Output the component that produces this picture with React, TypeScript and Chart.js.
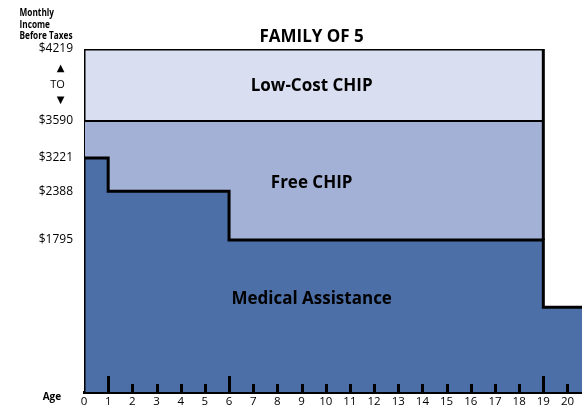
import React, { useEffect, useRef } from 'react';
import { Chart, registerables, LinearScale } from 'chart.js';

Chart.register(...registerables);

// ---- data ----
const ageLabels = [0, 1, 2, 3, 4, 5, 6, 7, 8, 9, 10, 11, 12, 13, 14, 15, 16, 17, 18, 19, 20];
const majorTickAges = [1, 6, 19];
const axisEndAge = 20.6;
const chipMaxAge = 19;
const maBandStartAges = [0, 1, 6, 19];
const maIncomeLimits = [3221, 2388, 1795, 1000];
const freeChipLimit = 3590;
const lowCostChipLimit = 4219;
const incomeTickValues = [4219, 3590, 3221, 2388, 1795];
const regionNames = ['Low-Cost CHIP', 'Free CHIP', 'Medical Assistance'];
const yCaptionLines = ['Monthly', 'Income', 'Before Taxes'];

// schematic (non-linear) income axis: dollar stops and their share of the axis height
const axisDollarStops = [0, 1795, 2388, 3221, 3590, 4219];
const axisShareStops = [0, 0.443, 0.585, 0.682, 0.79, 1];

function interp(v: number, from: number[], to: number[]) {
  const n = from.length;
  let i = 1;
  while (i < n - 1 && v > from[i]) i++;
  const t = (v - from[i - 1]) / (from[i] - from[i - 1]);
  return to[i - 1] + t * (to[i] - to[i - 1]);
}

class SchematicScale extends LinearScale {
  static id = 'schematic';
  static defaults = LinearScale.defaults;
  getPixelForValue(value: number) {
    if (value === null || value === undefined || isNaN(value)) return NaN;
    return this.getPixelForDecimal(interp(value, axisDollarStops, axisShareStops));
  }
  getValueForPixel(pixel: number) {
    return interp(this.getDecimalForPixel(pixel), axisShareStops, axisDollarStops);
  }
}
Chart.register(SchematicScale as any);

// build step outlines from the arrays
const maPoints: { x: number; y: number }[] = [{ x: 0, y: 0 }];
maBandStartAges.forEach((a, i) => {
  const end = i + 1 < maBandStartAges.length ? maBandStartAges[i + 1] : axisEndAge;
  maPoints.push({ x: a, y: maIncomeLimits[i] });
  maPoints.push({ x: end, y: maIncomeLimits[i] });
});
const freePoints = [
  { x: 0, y: 0 },
  { x: 0, y: freeChipLimit },
  { x: chipMaxAge, y: freeChipLimit },
];
const lowCostPoints = [
  { x: 0, y: freeChipLimit },
  { x: 0, y: lowCostChipLimit },
  { x: chipMaxAge, y: lowCostChipLimit },
  { x: chipMaxAge, y: maIncomeLimits[maBandStartAges.indexOf(chipMaxAge) - 1] },
];

const FONT = '"Open Sans", "DejaVu Sans", sans-serif';

const decorPlugin = {
  id: 'decor',
  afterDatasetsDraw(chart: any) {
    const { ctx, chartArea, scales } = chart;
    const xs = scales.x;
    ctx.save();
    ctx.strokeStyle = '#000';
    ctx.lineWidth = 3;
    ageLabels.forEach((a) => {
      if (a === 0) return;
      const px = Math.round(xs.getPixelForValue(a)) + 0.5;
      const len = majorTickAges.includes(a) ? 16 : 8;
      ctx.beginPath();
      ctx.moveTo(px, chartArea.bottom);
      ctx.lineTo(px, chartArea.bottom - len);
      ctx.stroke();
    });
    ctx.restore();
  },
  afterDraw(chart: any) {
    const { ctx, chartArea, scales } = chart;
    const xs = scales.x;
    const ys = scales.y;
    const cx = (xs.getPixelForValue(0) + xs.getPixelForValue(chipMaxAge)) / 2 - 2;
    const h = chartArea.bottom - chartArea.top;
    ctx.save();
    ctx.fillStyle = '#000';
    ctx.textAlign = 'center';
    ctx.textBaseline = 'alphabetic';
    ctx.font = `bold 17px ${FONT}`;
    ctx.fillText('FAMILY OF 5', cx, 42);
    const shares = [0.1035, 0.388, 0.726];
    regionNames.forEach((t, i) => {
      ctx.fillText(t, cx, chartArea.top + shares[i] * h + 6);
    });
    // axis caption (condensed)
    ctx.textAlign = 'left';
    ctx.font = `bold 10.5px ${FONT}`;
    const widest = ctx.measureText(yCaptionLines[2]).width;
    const sx = 53 / widest;
    const baselines = [16, 28.3, 39.3];
    yCaptionLines.forEach((t, i) => {
      ctx.save();
      ctx.translate(19.5, baselines[i]);
      ctx.scale(sx, 1);
      ctx.fillText(t, 0, 0);
      ctx.restore();
    });
    ctx.save();
    ctx.font = `bold 11px ${FONT}`;
    const aw = ctx.measureText('Age').width;
    ctx.translate(42.7, 400);
    ctx.scale(18.5 / aw, 1);
    ctx.fillText('Age', 0, 0);
    ctx.restore();
    // range marker between top two income ticks
    const mid = (ys.getPixelForValue(freeChipLimit) + ys.getPixelForValue(lowCostChipLimit)) / 2;
    ctx.textAlign = 'center';
    ctx.textBaseline = 'middle';
    ctx.font = `10px "DejaVu Sans", sans-serif`;
    ctx.fillText('▲', 60.5, mid - 16.5);
    ctx.fillText('▼', 60.5, mid + 15);
    ctx.font = `11px ${FONT}`;
    ctx.fillText('TO', 57.5, mid - 0.5);
    ctx.restore();
  },
};

export default function App() {
  const ref = useRef<HTMLCanvasElement>(null);
  useEffect(() => {
    Chart.defaults.font.family = FONT;
    Chart.defaults.color = '#000';
    const chart = new Chart(ref.current as HTMLCanvasElement, {
      type: 'line',
      data: {
        datasets: [
          {
            label: 'Medical Assistance',
            data: maPoints,
            borderColor: '#000',
            borderWidth: 3,
            backgroundColor: '#4d6fa8',
            fill: 'start',
            pointRadius: 0,
            tension: 0,
            borderJoinStyle: 'miter',
          },
          {
            label: 'Free CHIP',
            data: freePoints,
            borderColor: '#000',
            borderWidth: 2,
            backgroundColor: '#a3b1d6',
            fill: 'start',
            pointRadius: 0,
            tension: 0,
            borderJoinStyle: 'miter',
          },
          {
            label: 'Low-Cost CHIP',
            data: lowCostPoints,
            borderColor: '#000',
            borderWidth: 3,
            backgroundColor: '#d9def0',
            fill: 'start',
            pointRadius: 0,
            tension: 0,
            borderJoinStyle: 'miter',
          },
        ],
      },
      options: {
        animation: false,
        responsive: true,
        maintainAspectRatio: false,
        events: [],
        layout: { padding: { top: 49, right: 0, bottom: 0, left: 0 } },
        plugins: {
          legend: { display: false },
          tooltip: { enabled: false },
          title: { display: false },
          filler: { drawTime: 'beforeDatasetsDraw' },
        } as any,
        scales: {
          x: {
            type: 'linear',
            min: 0,
            max: axisEndAge,
            afterBuildTicks: (s: any) => {
              s.ticks = ageLabels.map((v) => ({ value: v }));
            },
            afterFit: (s: any) => {
              s.height = 19;
            },
            grid: { display: true, drawOnChartArea: false, drawTicks: false },
            border: { display: true, width: 3, color: '#000' },
            ticks: {
              font: { size: 11.5, family: FONT },
              color: '#000',
              padding: 3,
              maxRotation: 0,
              autoSkip: false,
              callback: (v: any) => String(v),
            },
          },
          y: {
            type: 'schematic' as any,
            min: 0,
            max: lowCostChipLimit,
            afterBuildTicks: (s: any) => {
              s.ticks = incomeTickValues.map((v) => ({ value: v }));
            },
            afterFit: (s: any) => {
              s.width = 84;
            },
            grid: { display: false, drawTicks: false },
            border: { display: false },
            ticks: {
              font: { size: 12, family: FONT },
              color: '#000',
              padding: 11,
              autoSkip: false,
              callback: (v: any) => '$' + v,
            },
          },
        } as any,
      },
      plugins: [decorPlugin],
    } as any);
    return () => chart.destroy();
  }, []);
  return (
    <div style={{ position: 'absolute', left: 0, top: 0, width: 582, height: 411 }}>
      <canvas ref={ref} />
    </div>
  );
}
